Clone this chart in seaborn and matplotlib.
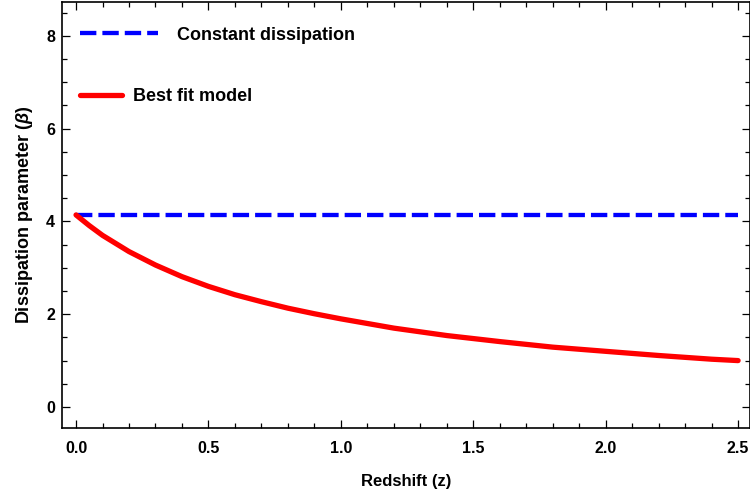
import numpy as np
import pandas as pd
import seaborn as sns
import matplotlib.pyplot as plt
from matplotlib.ticker import MultipleLocator

# valores
z_fit = [0.0, 0.05, 0.1, 0.2, 0.3, 0.4, 0.5, 0.6, 0.7, 0.8, 0.9, 1.0,
         1.2, 1.4, 1.6, 1.8, 2.0, 2.2, 2.4, 2.5]
beta_fit = [4.14, 3.91, 3.70, 3.35, 3.06, 2.81, 2.60, 2.42, 2.27, 2.13, 2.01, 1.90,
            1.70, 1.54, 1.41, 1.29, 1.20, 1.11, 1.03, 1.00]
z_const = [0.0, 2.5]
beta_const = [4.14, 4.14]

x_ticks = [0.0, 0.5, 1.0, 1.5, 2.0, 2.5]
y_ticks = [0, 2, 4, 6, 8]

sns.set_theme(style="ticks")
plt.rcParams["font.family"] = ["Liberation Sans", "DejaVu Sans"]
plt.rcParams["font.weight"] = "bold"
plt.rcParams["text.color"] = "black"
plt.rcParams["axes.labelcolor"] = "black"
plt.rcParams["mathtext.fontset"] = "custom"
plt.rcParams["mathtext.it"] = "Liberation Sans:italic:bold"
plt.rcParams["mathtext.rm"] = "Liberation Sans:bold"

fig = plt.figure(figsize=(7.5, 4.94), dpi=100)
ax = fig.add_axes([62 / 750, 66 / 494, 688 / 750, 426 / 494])

df_fit = pd.DataFrame({"z": z_fit, "beta": beta_fit})
df_const = pd.DataFrame({"z": z_const, "beta": beta_const})

sns.lineplot(data=df_const, x="z", y="beta", ax=ax, color="#0000ff", lw=3.1,
             dashes=False, label="Constant dissipation")
ax.lines[-1].set_dashes((3.8, 1.4))
sns.lineplot(data=df_fit, x="z", y="beta", ax=ax, color="#ff0000", lw=3.8,
             label="Best fit model")

ax.set_xlim(-0.053, 2.545)
ax.set_ylim(-0.453, 8.73)
ax.set_xticks(x_ticks)
ax.set_xticklabels([f"{v:.1f}" for v in x_ticks])
ax.set_yticks(y_ticks)
ax.set_yticklabels([str(v) for v in y_ticks])
ax.xaxis.set_minor_locator(MultipleLocator(0.1))
ax.yaxis.set_minor_locator(MultipleLocator(0.5))
ax.tick_params(which="both", direction="in", top=True, right=True, color="black",
               width=0.9, labelsize=11.5, labelcolor="black")
ax.tick_params(which="major", length=6, pad=9)
ax.tick_params(axis="y", which="major", pad=5)
ax.tick_params(which="minor", length=3.5)
for lab in ax.get_xticklabels() + ax.get_yticklabels():
    lab.set_fontweight("bold")
for sp in ax.spines.values():
    sp.set_color("black")
    sp.set_linewidth(1.2)

ax.set_xlabel("Redshift (z)", fontsize=12, fontweight="bold", labelpad=13, color="black")
ax.set_ylabel(r"Dissipation parameter ($\beta$)", fontsize=13, fontweight="bold",
              labelpad=8, color="black")

# legenda em duas partes (tamanhos de linha diferentes)
handles, labels = ax.get_legend_handles_labels()
leg1 = ax.legend([handles[0]], [labels[0]], loc="center left", bbox_to_anchor=(0.026, 0.9225),
                 frameon=False, handlelength=4.3, handletextpad=1.1, borderpad=0,
                 borderaxespad=0, prop={"weight": "bold", "size": 13}, labelcolor="black")
ax.add_artist(leg1)
ax.legend([handles[1]], [labels[1]], loc="center left", bbox_to_anchor=(0.026, 0.777),
          frameon=False, handlelength=2.33, handletextpad=0.6, borderpad=0,
          borderaxespad=0, prop={"weight": "bold", "size": 13}, labelcolor="black")

fig.savefig("out.png", dpi=100)
